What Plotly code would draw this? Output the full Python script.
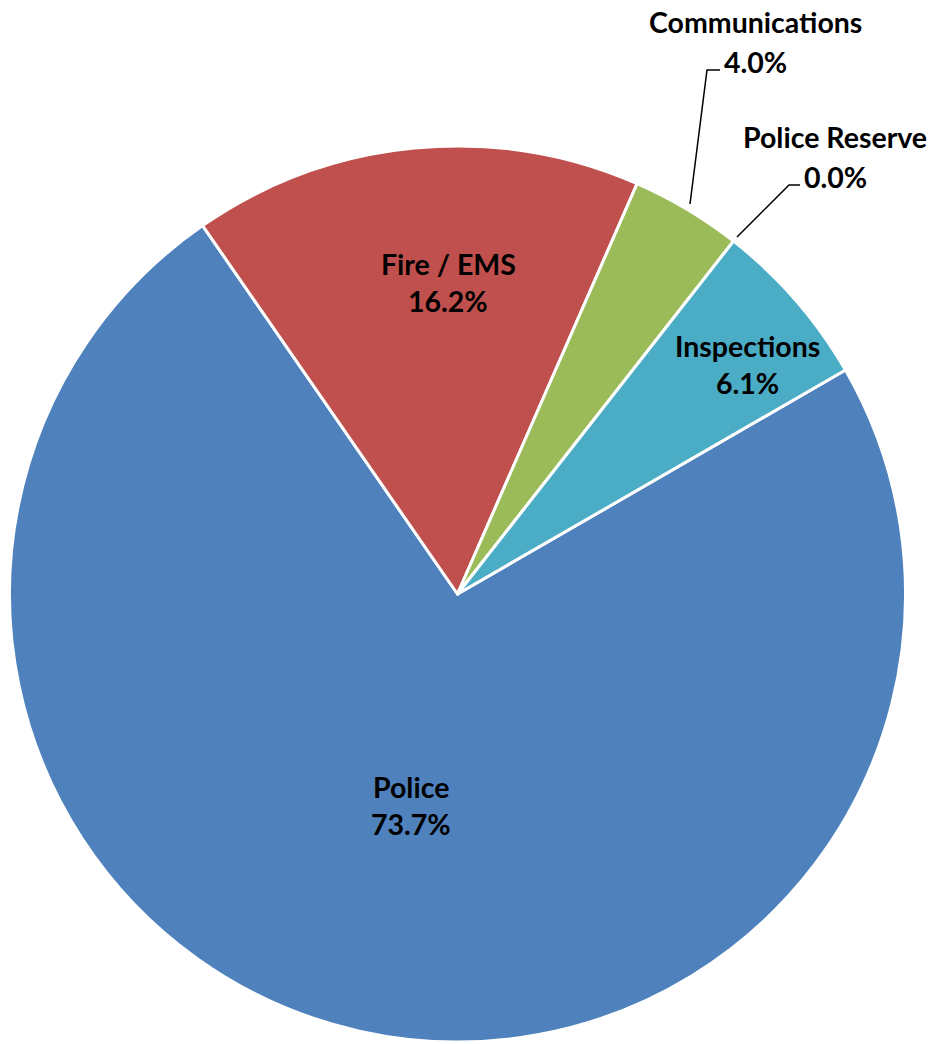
import plotly.graph_objects as go

# =====================================================
# Data
# =====================================================

labels = ["Police", "Fire / EMS", "Communications", "Police Reserve", "Inspections"]
shares = [73.7, 16.2, 4.0, 0.0, 6.1]
colors = ["#4F81BD", "#C0504D", "#9BBB59", "#8064A2", "#4BACC6"]

W, H = 938, 1044
FONT = "Lato, 'Open Sans', sans-serif"
FSIZE = 28.5

fig = go.Figure(
    go.Pie(
        labels=labels,
        values=shares,
        sort=False,
        direction="clockwise",
        rotation=60,
        marker=dict(colors=colors, line=dict(color="white", width=3)),
        textinfo="none",
        hoverinfo="label+percent",
        domain=dict(x=[9 / W, 906 / W], y=[1 - 1042 / H, 1 - 146 / H]),
        showlegend=False,
    )
)

# label block placement (pixel centres of the two text lines)
label_pos = {
    "Police": (411, 787, 824),
    "Fire / EMS": (448, 264, 301),
    "Inspections": (747, 346, 383),
    "Communications": (755, 22, 62),
    "Police Reserve": (835, 137, 177),
}

for name, val in zip(labels, shares):
    x, y1, y2 = label_pos[name]
    for txt, y in ((name, y1), (f"{val:.1f}%", y2)):
        fig.add_annotation(
            x=x / W,
            y=1 - y / H,
            xref="paper",
            yref="paper",
            text=f"<b>{txt}</b>",
            showarrow=False,
            font=dict(family=FONT, size=FSIZE, color="black"),
            xanchor="center",
            yanchor="middle",
        )

# leader lines for the small outside labels
leaders = [
    [(690, 204), (707, 70), (720, 70)],
    [(737, 237), (789, 185), (800, 185)],
]
for pts in leaders:
    path = "M " + " L ".join(f"{px / W} {1 - py / H}" for px, py in pts)
    fig.add_shape(
        type="path",
        path=path,
        xref="paper",
        yref="paper",
        line=dict(color="black", width=1.5),
    )

fig.update_layout(
    width=W,
    height=H,
    margin=dict(l=0, r=0, t=0, b=0),
    paper_bgcolor="white",
    plot_bgcolor="white",
)

fig.write_html(
    "out.html",
    config={"displayModeBar": False},
    post_script="document.body.style.margin='0';",
)
